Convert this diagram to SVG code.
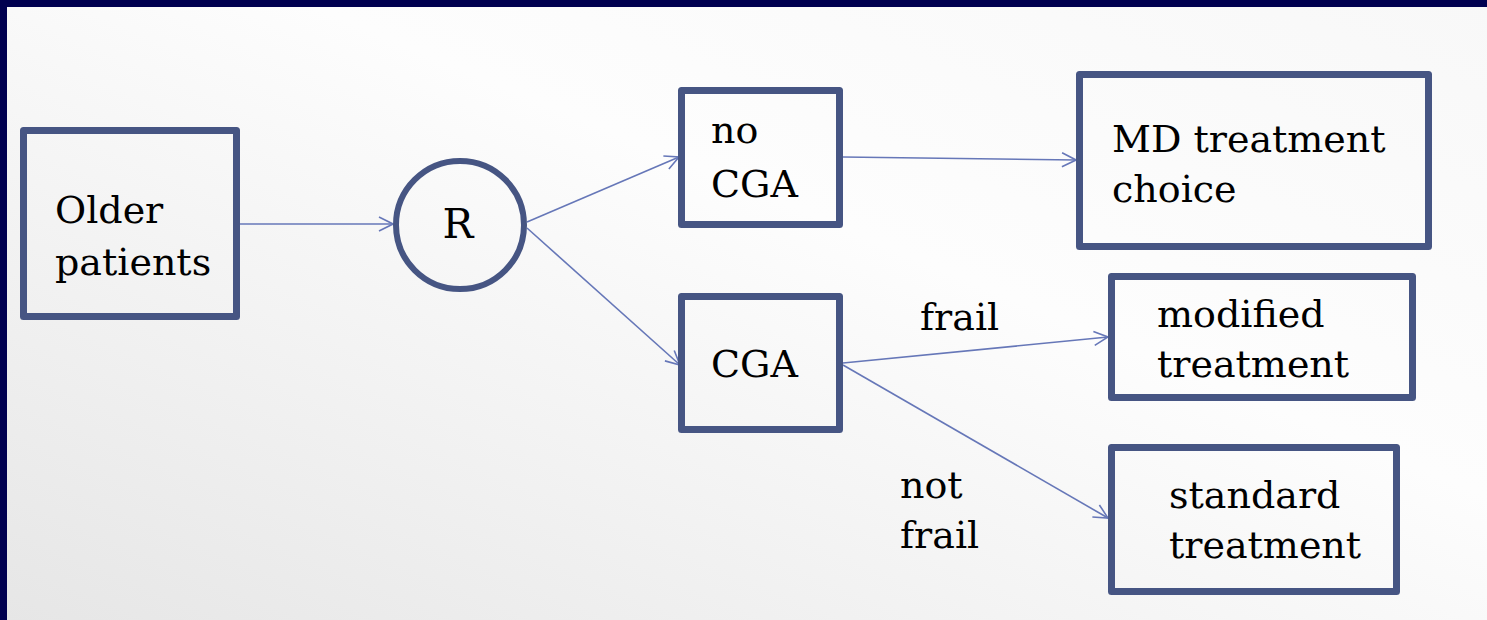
<svg xmlns="http://www.w3.org/2000/svg" width="1487" height="620" viewBox="0 0 1487 620">
<style>
.box{fill:none;stroke:#465583;stroke-width:7;stroke-linejoin:round}
.lbl{font-family:"DejaVu Serif","Liberation Serif",serif;font-size:38px;fill:#000}
.conn{fill:none;stroke:#6677b8;stroke-width:1.6}
</style>
<defs>
<linearGradient id="bg" x1="0" y1="1" x2="1" y2="0">
<stop offset="0" stop-color="#e6e6e6"/>
<stop offset="0.6" stop-color="#fdfdfd"/>
<stop offset="1" stop-color="#f8f8f8"/>
</linearGradient>
<marker id="arr" viewBox="0 0 16 16" refX="15" refY="8" markerWidth="16" markerHeight="16" markerUnits="userSpaceOnUse" orient="auto">
<path d="M1,1 L15,8 L1,15" fill="none" stroke="#6677b8" stroke-width="1.6"/>
</marker>
</defs>
<rect x="0" y="0" width="1487" height="620" fill="url(#bg)"/>
<rect x="0" y="0" width="1487" height="7" fill="#000050"/>
<rect x="0" y="0" width="7" height="620" fill="#000050"/>
<g id="connectors">
<line class="conn" x1="240" y1="224" x2="393" y2="224" marker-end="url(#arr)"/>
<line class="conn" x1="527" y1="222" x2="679" y2="157" marker-end="url(#arr)"/>
<line class="conn" x1="527" y1="228" x2="680" y2="365" marker-end="url(#arr)"/>
<line class="conn" x1="843" y1="157" x2="1076" y2="160" marker-end="url(#arr)"/>
<line class="conn" x1="843" y1="363" x2="1108" y2="337" marker-end="url(#arr)"/>
<line class="conn" x1="843" y1="365" x2="1108" y2="518" marker-end="url(#arr)"/>
<text class="lbl" x="920" y="330">frail</text>
<text class="lbl" x="900" y="498">not</text>
<text class="lbl" x="900" y="548">frail</text>
</g>
<g id="older">
<rect class="box" x="23.5" y="130.5" width="213" height="186"/>
<text class="lbl" x="55" y="223">Older</text>
<text class="lbl" x="55" y="275">patients</text>
</g>
<g id="r">
<circle cx="460" cy="225" r="64" fill="none" stroke="#465583" stroke-width="6"/>
<text class="lbl" x="458" y="238" text-anchor="middle" style="font-size:41px">R</text>
</g>
<g id="nocga">
<rect class="box" x="681.5" y="90.5" width="158" height="134"/>
<text class="lbl" x="711" y="143">no</text>
<text class="lbl" x="711" y="197">CGA</text>
</g>
<g id="cga">
<rect class="box" x="681.5" y="296.5" width="158" height="133"/>
<text class="lbl" x="711" y="377">CGA</text>
</g>
<g id="md">
<rect class="box" x="1079.5" y="74.5" width="349" height="172"/>
<text class="lbl" x="1112" y="152">MD treatment</text>
<text class="lbl" x="1112" y="202">choice</text>
</g>
<g id="modified">
<rect class="box" x="1111.5" y="276.5" width="301" height="121"/>
<text class="lbl" x="1157" y="327">modified</text>
<text class="lbl" x="1157" y="377">treatment</text>
</g>
<g id="standard">
<rect class="box" x="1111.5" y="447.5" width="285" height="144"/>
<text class="lbl" x="1169" y="508">standard</text>
<text class="lbl" x="1169" y="558">treatment</text>
</g>
</svg>
